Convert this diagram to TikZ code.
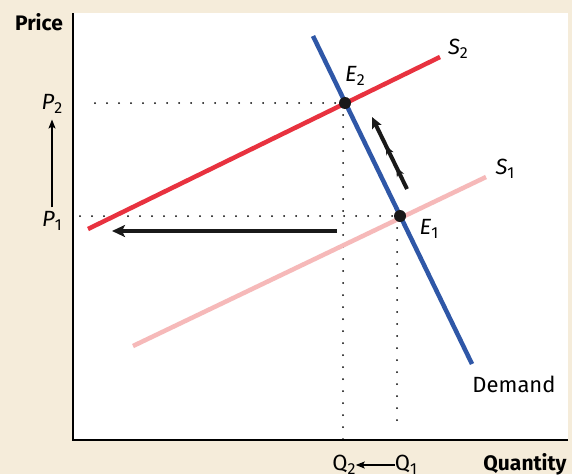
\documentclass[tikz,border=0pt]{standalone}
\usepackage{fontspec}
\setmainfont{Fira Sans}
\usetikzlibrary{arrows.meta,decorations.markings}
\definecolor{bg}{HTML}{F5ECDA}
\definecolor{sred}{HTML}{E8323F}
\definecolor{spink}{HTML}{F6B9B9}
\definecolor{dblue}{HTML}{2F57A7}
\newcommand\lab[2]{\textit{#1}\raisebox{-0.3ex}{\fontsize{16}{16}\selectfont #2}}
\newcommand\labq[2]{#1\raisebox{-0.3ex}{\fontsize{16}{16}\selectfont #2}}
\tikzset{
  txt/.style={inner sep=0pt, font=\fontsize{22}{24}\selectfont},
  btxt/.style={inner sep=0pt, font=\fontsize{21}{24}\selectfont\bfseries},
  curve/.style={line width=4.5pt},
  dotline/.style={line width=2pt, line cap=round, dash pattern=on 0pt off 12pt},
  eqpt/.style={circle, fill=black!90, minimum size=12pt, inner sep=0pt},
  bigarrow/.style={line width=4.5pt, black!90, -{Stealth[length=13pt,width=12pt,inset=3pt]}},
  smallarrow/.style={line width=1.3pt, -{Stealth[length=9pt,width=7pt,inset=2pt]}},
}
\begin{document}
\begin{tikzpicture}[x=1pt,y=-1pt]
\fill[bg] (0,0) rectangle (572,474);
\useasboundingbox (0,0) rectangle (572,474);
\fill[white] (73,13) rectangle (568,440);
\draw[line width=1.4pt] (73,13) -- (73,440) -- (568,440);

% dotted guides
\coordinate (E2) at (345,103);
\coordinate (E1) at (400,216);
\draw[dotline] (95,103) -- (E2);
\draw[dotline] (80,216) -- (E1);
\draw[dotline] (343,115) -- (343,440);
\draw[dotline] (397,228) -- (397,430);

% curves
\draw[curve, spink] (133,346) -- (486,177);
\draw[curve, sred] (88,229) -- (440,57);
\draw[curve, dblue] (313,36) -- (472,364);

% equilibrium points
\node[eqpt] (e2) at (E2) {};
\node[eqpt] (e1) at (E1) {};

% shift arrows
\coordinate (ha) at (337,231);
\coordinate (hb) at (112,231);
\draw[bigarrow] (ha) -- (hb);
\coordinate (ua) at (407,189);
\coordinate (ub) at (372,117);
\draw[line width=4pt, black!90,
  postaction={decorate},
  decoration={markings,
    mark=at position 0.3 with {\arrow{Stealth[length=9pt,width=8pt]}},
    mark=at position 0.6 with {\arrow{Stealth[length=9pt,width=8pt]}}},
  -{Stealth[length=11pt,width=10pt,inset=2pt]}] (ua) -- (ub);

% labels
\node[btxt, anchor=center] (price) at (39,22) {Price};
\node[btxt, anchor=center] (qty) at (525,464) {Quantity};
\node[txt] (p2) at (52,104) {\lab{P}{2}};
\node[txt] (p1) at (52,221) {\lab{P}{1}};
\draw[smallarrow] (p1.north) ++(0,-4) coordinate (pa) (pa) -- ([yshift=-6pt]p2.south);
\node[txt] (e2l) at (355,76) {\lab{E}{2}};
\node[txt] (e1l) at (429,229) {\lab{E}{1}};
\node[txt] (s2l) at (458,49) {\lab{S}{2}};
\node[txt] (s1l) at (505,169) {\lab{S}{1}};
\node[txt] (dem) at (514,384) {Demand};
\node[txt] (q2) at (344,465) {\labq{Q}{2}};
\node[txt] (q1) at (406,465) {\labq{Q}{1}};
\draw[smallarrow] (q1.west) -- (q2.east);
\end{tikzpicture}
\end{document}
